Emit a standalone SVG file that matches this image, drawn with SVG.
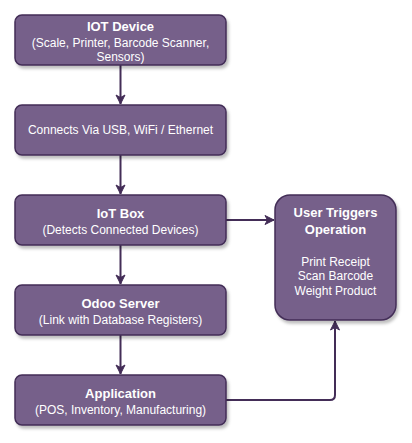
<svg xmlns="http://www.w3.org/2000/svg" width="412" height="443" viewBox="0 0 412 443">
<defs>
<filter id="sh" x="-10%" y="-10%" width="130%" height="140%"><feDropShadow dx="2" dy="3" stdDeviation="1.5" flood-color="#000" flood-opacity="0.25"/></filter>
<marker id="ar" markerWidth="12" markerHeight="12" refX="10" refY="6" orient="auto" markerUnits="userSpaceOnUse"><path d="M1,1.5 L10,6 L1,10.5 L3.5,6 Z" fill="#432D57" stroke="#432D57"/></marker>
<style>
.n{fill:#76608A;stroke:#432D57;stroke-width:1.5;filter:url(#sh)}
.t{font-family:"Liberation Sans",Arial,sans-serif;fill:#fff;text-anchor:middle;font-size:12px}
.b{font-weight:bold;font-size:13px}
.e{fill:none;stroke:#432D57;stroke-width:2;marker-end:url(#ar)}
</style>
</defs>
<g id="connectors">
<path class="e" d="M120.5,65 V104"/>
<path class="e" d="M120.5,155 V194"/>
<path class="e" d="M120.5,245 V284"/>
<path class="e" d="M120.5,335 V374"/>
<path class="e" d="M226,220 H274"/>
<path class="e" d="M226,400 H330 Q335,400 335,395 V321"/>
</g>
<g id="iot-device"><rect class="n" x="15" y="15" width="211" height="50" rx="7"/>
<text class="t b" x="120.5" y="31">IOT Device</text>
<text class="t" x="120.5" y="47">(Scale, Printer, Barcode Scanner,</text>
<text class="t" x="120.5" y="61">Sensors)</text></g>
<g id="connects"><rect class="n" x="15" y="105" width="211" height="50" rx="7"/>
<text class="t" x="120.5" y="134">Connects Via USB, WiFi / Ethernet</text></g>
<g id="iot-box"><rect class="n" x="15" y="195" width="211" height="50" rx="7"/>
<text class="t b" x="120.5" y="218">IoT Box</text>
<text class="t" x="120.5" y="234">(Detects Connected Devices)</text></g>
<g id="odoo-server"><rect class="n" x="15" y="285" width="211" height="50" rx="7"/>
<text class="t b" x="120.5" y="308">Odoo Server</text>
<text class="t" x="120.5" y="324">(Link with Database Registers)</text></g>
<g id="application"><rect class="n" x="15" y="375" width="211" height="50" rx="7"/>
<text class="t b" x="120.5" y="398">Application</text>
<text class="t" x="120.5" y="414">(POS, Inventory, Manufacturing)</text></g>
<g id="user-triggers"><rect class="n" x="275" y="195" width="121" height="125" rx="15"/>
<text class="t b" x="335.5" y="217">User Triggers</text>
<text class="t b" x="335.5" y="234">Operation</text>
<text class="t" x="335.5" y="266">Print Receipt</text>
<text class="t" x="335.5" y="280">Scan Barcode</text>
<text class="t" x="335.5" y="295">Weight Product</text></g>
</svg>
